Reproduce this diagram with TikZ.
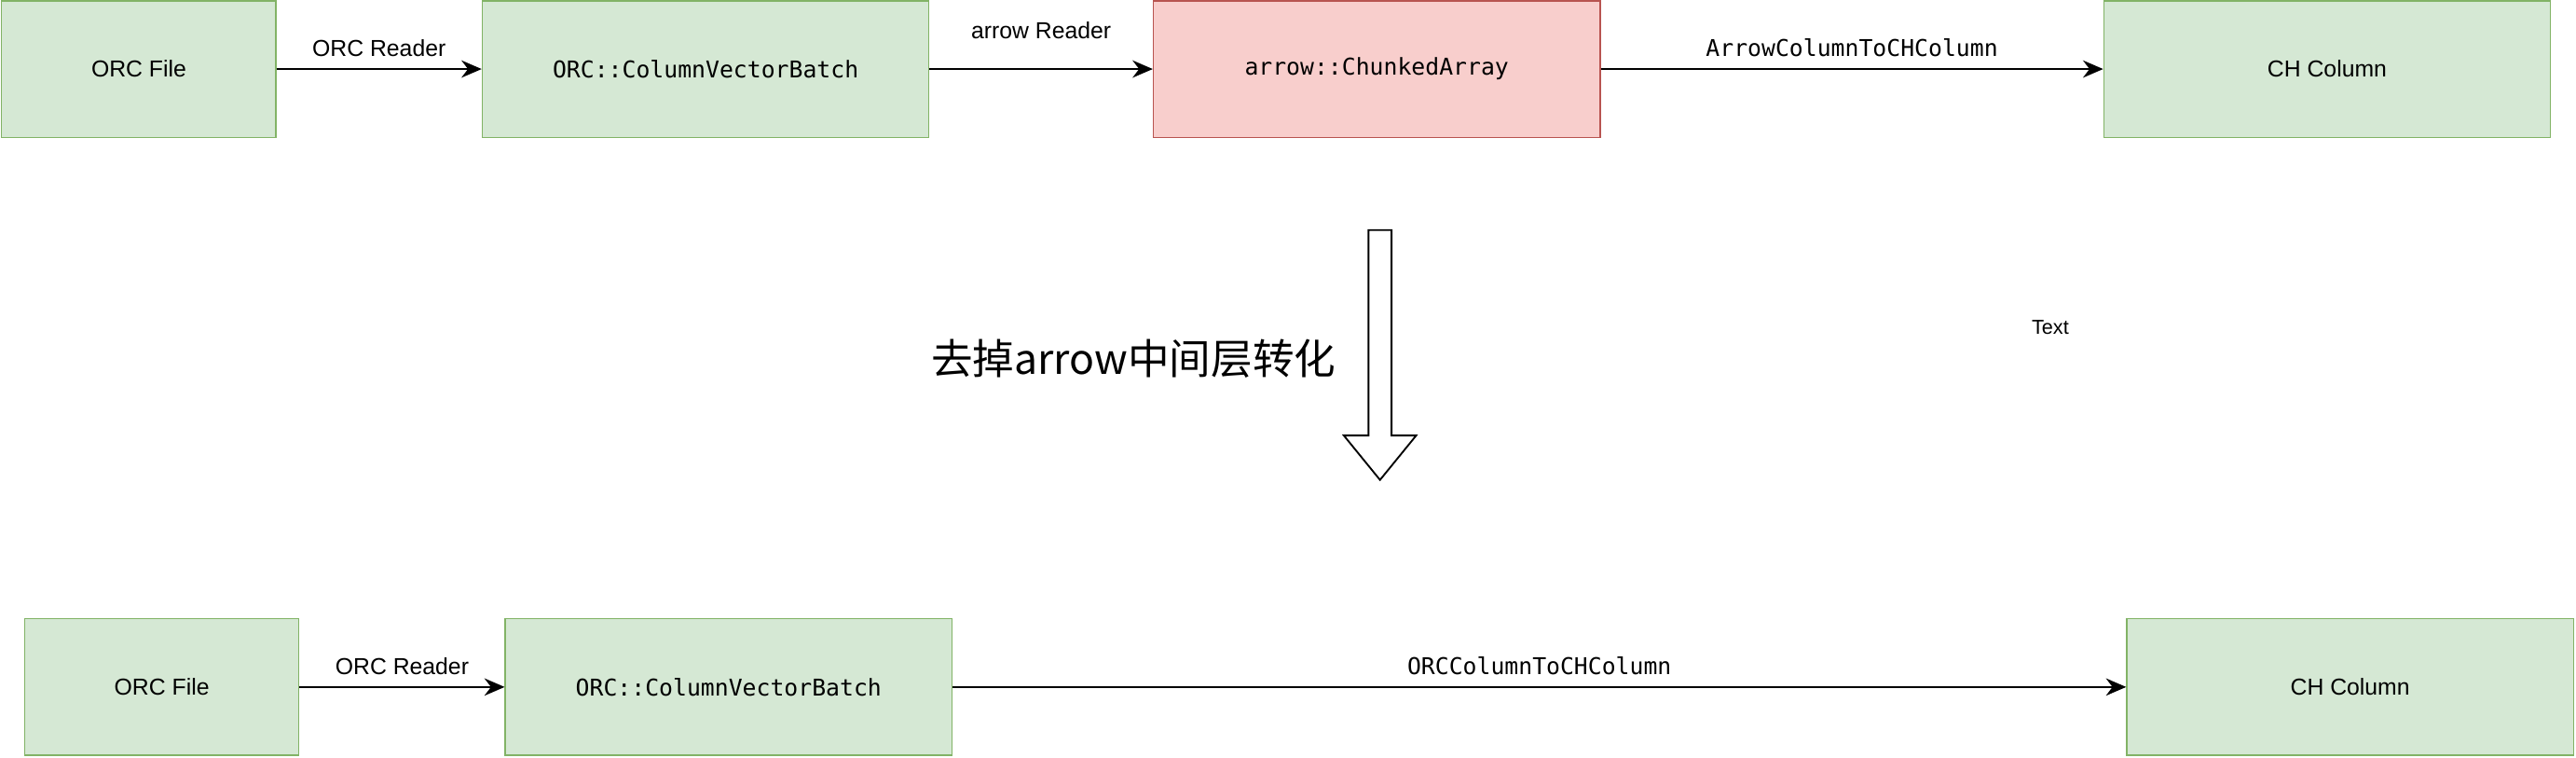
\documentclass[tikz,border=0pt]{standalone}
\usepackage{fontspec}
\setmainfont{Liberation Sans}
\setmonofont{DejaVu Sans Mono}
\newfontfamily\cjk{Noto Sans CJK SC}
\usetikzlibrary{positioning,calc,arrows.meta}
\definecolor{boxgreen}{HTML}{D5E8D4}
\definecolor{linegreen}{HTML}{82B366}
\definecolor{boxred}{HTML}{F8CECC}
\definecolor{linered}{HTML}{B85450}
\tikzset{
  stage/.style={draw=linegreen, fill=boxgreen, minimum width=5.44cm, minimum height=1.66cm, inner sep=0pt, font=\footnotesize},
  midstage/.style={stage, draw=linered, fill=boxred},
  flow/.style={-{Stealth[length=7pt,width=6pt]}, line width=0.6pt},
  tag/.style={font=\footnotesize, inner sep=1pt}
}
\begin{document}
\begin{tikzpicture}[x=0.02cm,y=-0.02cm]
			\useasboundingbox (0,0) rectangle (1568,461);
			% top row
			\node[stage, minimum width=3.34cm] (file1) at (84.5,42) {ORC File};
			\node[stage] (batch1) at (429.5,42) {\texttt{ORC::ColumnVectorBatch}};
			\node[midstage] (chunk) at (838,42) {\texttt{arrow::ChunkedArray}};
			\node[stage] (col1) at (1416.5,42) {CH Column};
			
			\draw[flow] (file1) -- node[tag, above=3pt] {ORC Reader} (batch1);
			\draw[flow] (batch1) -- node[tag, above=9pt] {arrow Reader} (chunk);
			\draw[flow] (chunk) -- node[tag, above=3pt] {\texttt{ArrowColumnToCHColumn}} (col1);
			
			% hollow arrow
			\draw[line width=0.6pt] (833,140) -- (833,265) -- (818,265) -- (840,292) -- (862,265) -- (847,265) -- (847,140) -- cycle;
			\node (note) at (690,218) {\cjk\Large 去掉arrow中间层转化};
			\node[tag, font=\scriptsize] (txt) at (1248,199) {Text};
			
			% bottom row
			\node[stage, minimum width=3.34cm] (file2) at (98.5,418) {ORC File};
			\node[stage] (batch2) at (443.5,418) {\texttt{ORC::ColumnVectorBatch}};
			\node[stage] (col2) at (1430.5,418) {CH Column};
			
			\draw[flow] (file2) -- node[tag, above=3pt] {ORC Reader} (batch2);
			\draw[flow] (batch2) -- node[tag, above=3pt] {\texttt{ORCColumnToCHColumn}} (col2);
		\end{tikzpicture}
\end{document}
